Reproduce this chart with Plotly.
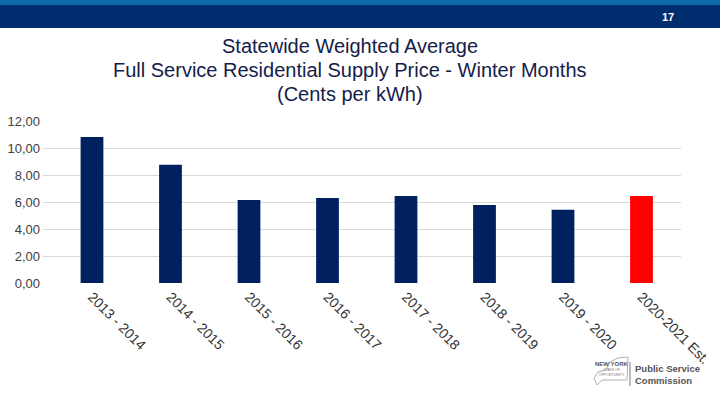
import plotly.graph_objects as go

categories = ["2013 - 2014", "2014 - 2015", "2015 - 2016", "2016 - 2017",
              "2017 - 2018", "2018 - 2019", "2019 - 2020", "2020-2021 Est."]
values = [10.81, 8.76, 6.15, 6.30, 6.44, 5.78, 5.43, 6.44]
bar_colors = ["#002060"] * 7 + ["#FF0000"]
y_ticks = [0, 2, 4, 6, 8, 10, 12]
title_lines = ["Statewide Weighted Average",
               "Full Service Residential Supply Price - Winter Months",
               "(Cents per kWh)"]
page_number = "17"

W, H = 720, 405
def px(x):
    return x / W
def py(y):
    return 1 - y / H

fig = go.Figure()
fig.add_trace(go.Bar(x=list(range(len(categories))), y=values,
                     marker=dict(color=bar_colors, line=dict(width=0)),
                     width=0.29, hoverinfo="skip"))

fig.update_layout(
    width=W, height=H,
    margin=dict(l=0, r=0, t=0, b=0, autoexpand=False),
    paper_bgcolor="white", plot_bgcolor="white",
    separators=",.",
    showlegend=False,
    font=dict(family="Arial, Liberation Sans, sans-serif", color="#404040"),
    xaxis=dict(domain=[px(43), px(681)], range=[-0.624, 7.503],
               tickmode="array", tickvals=list(range(len(categories))),
               ticktext=categories, tickangle=45, automargin=False,
               tickfont=dict(size=14, color="#333333"),
               showgrid=False, zeroline=False, showline=False, ticks="",
               ticklabelstandoff=2),
    yaxis=dict(domain=[py(283), py(121)], range=[0, 12], automargin=False,
               tickmode="array", tickvals=y_ticks, tickformat=".2f",
               tickfont=dict(size=13, color="#404040"),
               showgrid=True, gridcolor="#d9d9d9", gridwidth=1,
               zeroline=False, showline=False, ticks="", ticklabelstandoff=2),
)

shapes = [
    dict(type="rect", xref="paper", yref="paper", x0=0, x1=1, y0=py(5), y1=1,
         fillcolor="#0b6aa8", line=dict(width=0), layer="above"),
    dict(type="rect", xref="paper", yref="paper", x0=0, x1=1, y0=py(28), y1=py(5),
         fillcolor="#002d6e", line=dict(width=0), layer="above"),
    dict(type="line", xref="paper", yref="paper", x0=px(630), x1=px(630),
         y0=py(386), y1=py(362), line=dict(color="#777777", width=1)),
    dict(type="path", xref="paper", yref="paper",
         path=("M {},{} L {},{} L {},{} L {},{} L {},{} L {},{} L {},{} L {},{} L {},{} Z").format(
             px(594), py(378), px(598), py(372), px(606), py(370), px(610), py(362),
             px(618), py(358), px(628), py(357), px(627), py(380), px(602), py(380),
             px(597), py(385)),
         line=dict(color="#9a9a9a", width=0.8), fillcolor="rgba(0,0,0,0)"),
]
fig.update_layout(shapes=shapes)

ann = []
for i, line in enumerate(title_lines):
    ann.append(dict(text=line, xref="paper", yref="paper", x=px(350), y=py(46 + 24 * i),
                    xanchor="center", yanchor="middle", showarrow=False,
                    font=dict(size=20, color="#14204a", family="Arial, Liberation Sans, sans-serif")))
ann.append(dict(text="<b>" + page_number + "</b>", xref="paper", yref="paper",
                x=px(668), y=py(17), xanchor="center", yanchor="middle", showarrow=False,
                font=dict(size=11, color="white")))
ann.append(dict(text="<b>NEW YORK</b>", xref="paper", yref="paper", x=px(612), y=py(364),
                xanchor="center", yanchor="middle", showarrow=False,
                font=dict(size=6, color="#555555")))
ann.append(dict(text="STATE OF<br>OPPORTUNITY", xref="paper", yref="paper", x=px(612), y=py(372),
                xanchor="center", yanchor="middle", showarrow=False,
                font=dict(size=3.5, color="#777777")))
ann.append(dict(text="<b>Public Service<br>Commission</b>", xref="paper", yref="paper",
                x=px(633), y=py(374), xanchor="left", yanchor="middle", showarrow=False,
                align="left", font=dict(size=9.5, color="#555555")))
fig.update_layout(annotations=ann)

fig.write_html("out.html", config={"responsive": False, "displayModeBar": False},
               post_script="document.body.style.margin='0';document.body.style.overflow='hidden';")
